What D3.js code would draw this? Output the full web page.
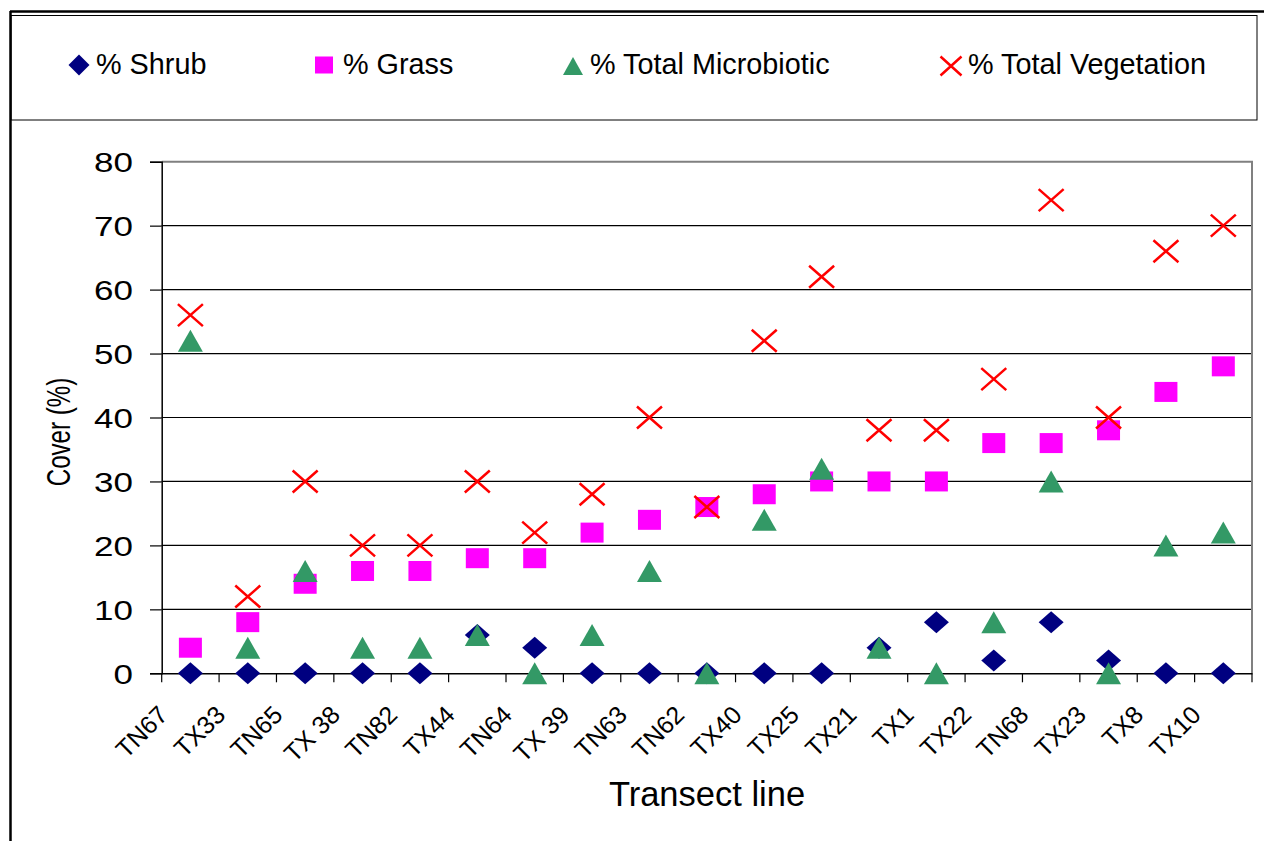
<!DOCTYPE html>
<html>
<head>
<meta charset="utf-8">
<script src="https://cdn.jsdelivr.net/npm/d3@7/dist/d3.min.js"></script>
<style>
  html, body { margin: 0; padding: 0; background: #fff; }
  svg { display: block; }
  text { font-family: "Liberation Sans", Arial, sans-serif; fill: #000; }
</style>
</head>
<body>
<svg id="chart" width="1264" height="841"></svg>
<script>
const categories = ["TN67","TX33","TN65","TX 38","TN82","TX44","TN64","TX 39","TN63","TN62","TX40","TX25","TX21","TX1","TX22","TN68","TX23","TX8","TX10"];
const shrub        = [0, 0, 0, 0, 0, 6, 4, 0, 0, 0, 0, 0, 4, 8, 2, 8, 2, 0, 0];
const grass        = [4, 8, 14, 16, 16, 18, 18, 22, 24, 26, 28, 30, 30, 30, 36, 36, 38, 44, 48];
const microbiotic  = [52, 4, 16, 4, 4, 6, 0, 6, 16, 0, 24, 32, 4, 0, 8, 30, 0, 20, 22];
const vegetation   = [56, 12, 30, 20, 20, 30, 22, 28, 40, 26, 52, 62, 38, 38, 46, 74, 40, 66, 70];
const yTicks = [0, 10, 20, 30, 40, 50, 60, 70, 80];
const seriesNames = ["% Shrub", "% Grass", "% Total Microbiotic", "% Total Vegetation"];

(function () {
const svg = d3.select("#chart");

// outer frame
svg.append("line").attr("x1", 10).attr("x2", 1264).attr("y1", 11.5).attr("y2", 11.5).attr("stroke", "#000").attr("stroke-width", 2.5);
svg.append("line").attr("x1", 10.5).attr("x2", 10.5).attr("y1", 11).attr("y2", 841).attr("stroke", "#000").attr("stroke-width", 2.5);
// legend box
svg.append("rect").attr("x", 11).attr("y", 15.5).attr("width", 1246).attr("height", 104.5)
  .attr("fill", "none").attr("stroke", "#000").attr("stroke-width", 1);

const pLeft = 161.7, pRight = 1252, pTop = 161.7, pBottom = 673.3;
const x = d3.scaleBand().domain(categories).range([pLeft, pRight]).padding(0);
const y = d3.scaleLinear().domain([0, 80]).range([pBottom, pTop]);
const bw = x.bandwidth();
const cx = c => x(c) + bw / 2;

// gridlines
svg.append("g").selectAll("line").data(yTicks.filter(t => t > 0 && t < 80)).join("line")
  .attr("x1", pLeft).attr("x2", pRight).attr("y1", d => y(d)).attr("y2", d => y(d))
  .attr("stroke", "#000").attr("stroke-width", 1.2);

// plot border (top & right), gray
svg.append("path").attr("d", `M${pLeft},${pTop}H${pRight}V${pBottom}`).attr("fill", "none")
  .attr("stroke", "#808080").attr("stroke-width", 2);

// y axis
const yAxis = svg.append("g").attr("transform", `translate(${pLeft},0)`)
  .call(d3.axisLeft(y).tickValues(yTicks).tickSize(11.7).tickPadding(0).tickFormat(d3.format("d")));
yAxis.select(".domain").attr("stroke", "#000").attr("stroke-width", 1.5);
yAxis.selectAll(".tick line").attr("stroke", "#000").attr("stroke-width", 1.2);
yAxis.selectAll(".tick text")
  .attr("font-size", 28).attr("font-family", "Liberation Sans, Arial, sans-serif")
  .attr("x", -28.7 / 1.25).attr("dy", "0.36em")
  .attr("transform", "scale(1.25,1)").attr("fill", "#000");

// x axis
const xAxis = svg.append("g").attr("transform", `translate(0,${pBottom})`)
  .call(d3.axisBottom(x).tickSize(0).tickFormat(""));
xAxis.select(".domain").attr("stroke", "#000").attr("stroke-width", 1.5);
const boundaries = categories.map(c => x(c)).concat([pRight]);
xAxis.append("g").selectAll("line").data(boundaries).join("line")
  .attr("x1", d => d).attr("x2", d => d).attr("y1", 0).attr("y2", 9)
  .attr("stroke", "#000").attr("stroke-width", 1.2);
svg.append("g").selectAll("text").data(categories).join("text")
  .attr("transform", d => `translate(${cx(d) - 21},${pBottom + 43}) rotate(-45)`)
  .attr("text-anchor", "end").attr("font-size", 25).text(d => d);

// axis titles
svg.append("text").attr("transform", "translate(70,432) rotate(-90) scale(0.71,1)")
  .attr("text-anchor", "middle").attr("font-size", 34).text("Cover (%)");
svg.append("text").attr("x", 707).attr("y", 806).attr("text-anchor", "middle")
  .attr("font-size", 34.5).text("Transect line");

// marker shapes
const colors = ["#000080", "#FF00FF", "#339966", "#FF0000"];
function diamond(g, px, py, hw, hh, col) {
  g.append("path").attr("d", `M${px},${py - hh}L${px + hw},${py}L${px},${py + hh}L${px - hw},${py}Z`).attr("fill", col);
}
function square(g, px, py, hw, hh, col) {
  g.append("rect").attr("x", px - hw).attr("y", py - hh).attr("width", 2 * hw).attr("height", 2 * hh).attr("fill", col);
}
function triangle(g, px, py, hw, hh, col) {
  g.append("path").attr("d", `M${px},${py - hh}L${px + hw},${py + hh}L${px - hw},${py + hh}Z`).attr("fill", col);
}
function cross(g, px, py, hw, hh, col) {
  g.append("path").attr("d", `M${px - hw},${py - hh}L${px + hw},${py + hh}M${px + hw},${py - hh}L${px - hw},${py + hh}`)
    .attr("stroke", col).attr("stroke-width", 2.5).attr("fill", "none");
}
const shapes = [diamond, square, triangle, cross];
const sizes = [[12.5, 11], [11.5, 10], [12.5, 11], [12.5, 11]];
const allSeries = [shrub, grass, microbiotic, vegetation];

const marks = svg.append("g");
allSeries.forEach((vals, si) => {
  const g = marks.append("g").attr("class", "series-" + si);
  vals.forEach((v, i) => {
    shapes[si](g, cx(categories[i]), y(v), sizes[si][0], sizes[si][1], colors[si]);
  });
});

// legend
const legendItems = [
  { mx: 79, my: 65, tx: 96, hw: 10.5, hh: 10.5 },
  { mx: 324, my: 65, tx: 343, hw: 9, hh: 8.5 },
  { mx: 573, my: 66, tx: 590, hw: 10, hh: 9 },
  { mx: 951, my: 66, tx: 968, hw: 10.5, hh: 9.5 }
];
const lg = svg.append("g");
legendItems.forEach((it, i) => {
  shapes[i](lg, it.mx, it.my, it.hw, it.hh, colors[i]);
  lg.append("text").attr("x", it.tx).attr("y", 74).attr("font-size", 28.8).text(seriesNames[i]);
});
})();
</script>
</body>
</html>
